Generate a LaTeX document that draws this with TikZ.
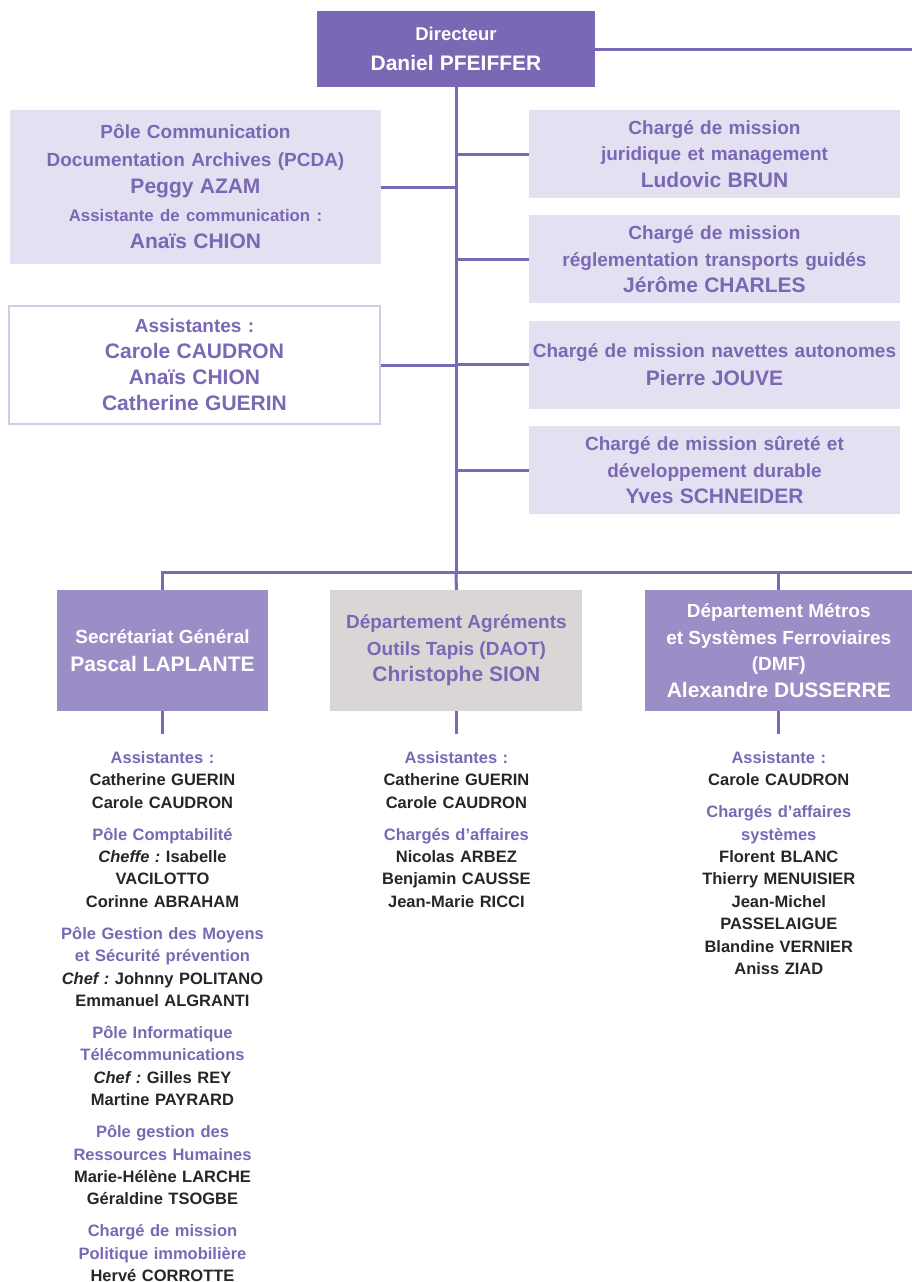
\documentclass[tikz,border=0pt]{standalone}
\usepackage{fontspec}
\setmainfont{Liberation Sans}
\usepackage{xcolor}
\usepackage{tikz}
\usetikzlibrary{positioning}

\definecolor{dirpurple}{HTML}{7B68B5}
\definecolor{midpurple}{HTML}{9B8EC7}
\definecolor{lightlav}{HTML}{E3E0F1}
\definecolor{lavline}{HTML}{D2CDE7}
\definecolor{greybox}{HTML}{DAD6D6}
\definecolor{namegrey}{HTML}{262626}

\newcommand{\bigname}[1]{{\fontsize{21}{26}\selectfont #1}}
\newcommand{\smallhead}[1]{{\fontsize{16.8}{26}\selectfont #1}}
\newcommand{\listhead}[1]{{\color{dirpurple}#1}}
\frenchspacing

\begin{document}
\begin{tikzpicture}[x=1pt, y=-1pt,
  dirbox/.style={rectangle, fill=dirpurple, text=white, minimum width=278pt, minimum height=76pt, text width=270pt, align=center, inner sep=0pt, font=\fontsize{18.5}{30}\selectfont\bfseries},
  infobox/.style={rectangle, fill=lightlav, text=dirpurple, minimum width=371pt, minimum height=88pt, text width=365pt, align=center, inner sep=0pt, font=\fontsize{19}{26.5}\selectfont\bfseries},
  assistbox/.style={rectangle, draw=lavline, line width=2pt, fill=white, text=dirpurple, minimum width=371pt, minimum height=118pt, text width=360pt, align=center, inner sep=0pt, font=\fontsize{19}{26}\selectfont\bfseries},
  deptbox/.style={rectangle, fill=midpurple, text=white, minimum height=121pt, align=center, inner sep=0pt, font=\fontsize{19}{26.5}\selectfont\bfseries},
  stafflist/.style={text width=260pt, align=center, inner sep=0pt, text=namegrey, font=\fontsize{16.5}{22.4}\selectfont\bfseries},
  link/.style={draw=dirpurple, line width=3pt},
]

\useasboundingbox (0,0) rectangle (912,1282);
\fill[white] (0,0) rectangle (912,1282);

% direction
\node[dirbox] (dir) at (456,49) {Directeur\\\bigname{Daniel PFEIFFER}};
\coordinate (dirout) at (912,49);
\coordinate (hub) at (456,572);
\coordinate (barright) at (912,572);

% left side
\node[infobox, minimum height=154pt, font=\fontsize{19}{27.5}\selectfont\bfseries] (pcda) at (195.5,187)
  {Pôle Communication\\Documentation Archives (PCDA)\\\bigname{Peggy AZAM}\\\smallhead{Assistante de communication :}\\\bigname{Anaïs CHION}};
\node[assistbox] (assist) at (194.5,365)
  {Assistantes :\\\bigname{Carole CAUDRON}\\\bigname{Anaïs CHION}\\\bigname{Catherine GUERIN}};

% right side
\node[infobox] (juri) at (714.5,154) {Chargé de mission\\juridique et management\\\bigname{Ludovic BRUN}};
\node[infobox, below=17pt of juri] (regl) {Chargé de mission\\réglementation transports guidés\\\bigname{Jérôme CHARLES}};
\node[infobox, below=17pt of regl, font=\fontsize{19}{28}\selectfont\bfseries] (nav) {Chargé de mission navettes autonomes\\\bigname{Pierre JOUVE}};
\node[infobox, below=17pt of nav] (sur) {Chargé de mission sûreté et\\développement durable\\\bigname{Yves SCHNEIDER}};

% departements
\node[deptbox, minimum width=211pt, font=\fontsize{19}{28}\selectfont\bfseries] (sg) at (162.5,650.5) {Secrétariat Général\\\bigname{Pascal LAPLANTE}};
\node[deptbox, fill=greybox, text=dirpurple, minimum width=252pt, right=62pt of sg] (daot) {Département Agréments\\Outils Tapis (DAOT)\\\bigname{Christophe SION}};
\node[deptbox, minimum width=268pt, right=62pt of daot] (dmf) {Département Métros\\et Systèmes Ferroviaires\\(DMF)\\\bigname{Alexandre DUSSERRE}};

\coordinate[below=23pt of sg] (sgtail);
\coordinate[below=23pt of daot] (daottail);
\coordinate[below=23pt of dmf] (dmftail);

% equipes
\node[stafflist, below=40pt of sg] (sglist) {\listhead{Assistantes :}\\Catherine GUERIN\\Carole CAUDRON\\[9.6pt]
  \listhead{Pôle Comptabilité}\\\textit{Cheffe :} Isabelle\\VACILOTTO\\Corinne ABRAHAM\\[9.6pt]
  \listhead{Pôle Gestion des Moyens}\\\listhead{et Sécurité prévention}\\\textit{Chef :} Johnny POLITANO\\Emmanuel ALGRANTI\\[9.6pt]
  \listhead{Pôle Informatique}\\\listhead{Télécommunications}\\\textit{Chef :} Gilles REY\\Martine PAYRARD\\[9.6pt]
  \listhead{Pôle gestion des}\\\listhead{Ressources Humaines}\\Marie-Hélène LARCHE\\Géraldine TSOGBE\\[9.6pt]
  \listhead{Chargé de mission}\\\listhead{Politique immobilière}\\Hervé CORROTTE};
\node[stafflist, below=40pt of daot] (daotlist) {\listhead{Assistantes :}\\Catherine GUERIN\\Carole CAUDRON\\[9.6pt]
  \listhead{Chargés d’affaires}\\Nicolas ARBEZ\\Benjamin CAUSSE\\Jean-Marie RICCI};
\node[stafflist, below=40pt of dmf] (dmflist) {\listhead{Assistante :}\\Carole CAUDRON\\[9.6pt]
  \listhead{Chargés d’affaires}\\\listhead{systèmes}\\Florent BLANC\\Thierry MENUISIER\\Jean-Michel\\PASSELAIGUE\\Blandine VERNIER\\Aniss ZIAD};

% liens
\draw[link] (dir.east) -- (dirout);
\draw[link] (dir.south) -- (hub);
\draw[link] (pcda.east) -- (pcda.east -| hub);
\draw[link] (assist.east) -- (assist.east -| hub);
\draw[link] (juri.west) -- (juri.west -| hub);
\draw[link] (regl.west) -- (regl.west -| hub);
\draw[link] (nav.west) -- (nav.west -| hub);
\draw[link] (sur.west) -- (sur.west -| hub);
\draw[link] (sg.north) -- (sg.north |- hub) -- (barright);
\draw[link] (daot.north) -- (hub);
\draw[link] (dmf.north) -- (dmf.north |- hub);
\draw[link] (sg.south) -- (sgtail);
\draw[link] (daot.south) -- (daottail);
\draw[link] (dmf.south) -- (dmftail);

\end{tikzpicture}
\end{document}
